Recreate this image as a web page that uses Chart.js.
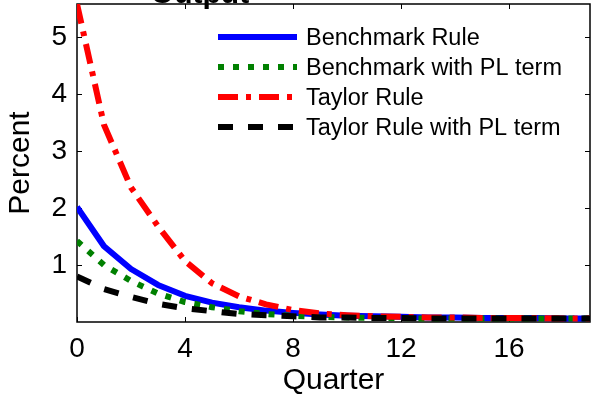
<!DOCTYPE html>
<html><head><meta charset="utf-8">
<script src="https://cdn.jsdelivr.net/npm/chart.js@4/dist/chart.umd.min.js"></script>
<style>html,body{margin:0;padding:0;background:#fff;overflow:hidden}canvas{display:block}</style>
</head><body>
<canvas id="c" width="592" height="403"></canvas>
<script>
const quarters = [0,1,2,3,4,5,6,7,8,9,10,11,12,13,14,15,16,17,18,19];
const benchmarkRule = [2.02,1.33,0.93,0.65,0.46,0.34,0.26,0.20,0.16,0.13,0.11,0.10,0.09,0.08,0.08,0.07,0.07,0.07,0.06,0.06];
const benchmarkPL   = [1.42,1.00,0.72,0.50,0.35,0.26,0.19,0.14,0.11,0.09,0.08,0.07,0.07,0.06,0.06,0.06,0.06,0.06,0.06,0.06];
const taylorRule    = [5.58,3.46,2.36,1.68,1.07,0.68,0.45,0.31,0.21,0.15,0.12,0.10,0.09,0.08,0.08,0.07,0.07,0.07,0.06,0.06];
const taylorPL      = [0.80,0.58,0.44,0.32,0.24,0.19,0.14,0.12,0.10,0.08,0.08,0.07,0.07,0.06,0.06,0.06,0.06,0.06,0.06,0.06];
const seriesLabels = ['Benchmark Rule','Benchmark with PL term','Taylor Rule','Taylor Rule with PL term'];
const xTicks = [0,4,8,12,16];
const yTicks = [1,2,3,4,5];
const titleText = 'Output';

const FONT = "'Liberation Sans', Arial, sans-serif";
const pts = arr => arr.map((v,i)=>({x:quarters[i], y:v}));

const boxPlugin = {
  id:'box',
  beforeDatasetsDraw(chart){
    const {ctx, chartArea:a, scales:{x,y}} = chart;
    ctx.save();
    ctx.strokeStyle='#000'; ctx.lineWidth=1.5;
    ctx.strokeRect(a.left, a.top, a.right-a.left, a.bottom-a.top);
    ctx.lineWidth=1;
    const L=5;
    ctx.beginPath();
    xTicks.forEach(v=>{const p=Math.round(x.getPixelForValue(v))+0.5;
      ctx.moveTo(p,a.bottom); ctx.lineTo(p,a.bottom-L);
      ctx.moveTo(p,a.top); ctx.lineTo(p,a.top+L);});
    yTicks.forEach(v=>{const p=Math.round(y.getPixelForValue(v))+0.5;
      ctx.moveTo(a.left,p); ctx.lineTo(a.left+L,p);
      ctx.moveTo(a.right,p); ctx.lineTo(a.right-L,p);});
    ctx.stroke();
    ctx.restore();
  },
  afterDraw(chart){
    const {ctx} = chart;
    ctx.save();
    ctx.fillStyle='#000';
    ctx.font = "bold 30px "+FONT;
    ctx.textAlign='center'; ctx.textBaseline='alphabetic';
    ctx.fillText(titleText, 200, 2.5);
    ctx.font = "23.5px "+FONT;
    ctx.textAlign='left';
    chart.data.datasets.forEach((ds,i)=>{
      const yy = 37 + i*30;
      ctx.beginPath();
      ctx.strokeStyle = ds.borderColor;
      ctx.lineWidth = ds.borderWidth;
      ctx.setLineDash(ds.borderDash||[]);
      ctx.lineCap='butt';
      ctx.moveTo(218,yy); ctx.lineTo(297,yy);
      ctx.stroke();
      ctx.setLineDash([]);
      ctx.fillStyle='#000';
      ctx.fillText(ds.label, 306, yy+8);
    });
    ctx.restore();
  }
};

const mk = (label, data, color, dash, order) => ({
  label, data: pts(data), borderColor: color, backgroundColor: color,
  borderWidth: 6, borderDash: dash, pointRadius: 0, tension: 0, fill: false,
  borderCapStyle:'butt', borderJoinStyle:'round', order
});

new Chart(document.getElementById('c'), {
  type:'line',
  data:{ datasets:[
    mk(seriesLabels[0], benchmarkRule, '#0000ff', [], 3),
    mk(seriesLabels[1], benchmarkPL, '#008000', [6,9], 2),
    mk(seriesLabels[2], taylorRule, '#ff0000', [20,8,5,8], 1),
    mk(seriesLabels[3], taylorPL, '#000000', [15,15], 0)
  ]},
  options:{
    responsive:false, animation:false, devicePixelRatio:1,
    layout:{padding:{top:4,right:2,left:0,bottom:0}},
    plugins:{legend:{display:false}, tooltip:{enabled:false}, title:{display:false}},
    scales:{
      x:{type:'linear', min:0, max:19,
        afterBuildTicks:s=>{s.ticks = xTicks.map(v=>({value:v}));},
        afterFit:s=>{s.height=81; s.paddingLeft=0; s.paddingRight=0;},
        grid:{display:false, drawTicks:false}, border:{display:false},
        ticks:{color:'#000', font:{family:FONT,size:28}, padding:10, maxRotation:0, autoSkip:false},
        title:{display:true, text:'Quarter', color:'#000', font:{family:FONT,size:30}, padding:{top:0,bottom:4}}
      },
      y:{type:'linear', min:0, max:5.58,
        afterBuildTicks:s=>{s.ticks = yTicks.map(v=>({value:v}));},
        afterFit:s=>{s.width=77; s.paddingTop=0; s.paddingBottom=0;},
        grid:{display:false, drawTicks:false}, border:{display:false},
        ticks:{color:'#000', font:{family:FONT,size:28}, padding:10, autoSkip:false},
        title:{display:true, text:'Percent', color:'#000', font:{family:FONT,size:30}, padding:{top:3,bottom:0}}
      }
    }
  },
  plugins:[boxPlugin]
});
</script>
</body></html>
